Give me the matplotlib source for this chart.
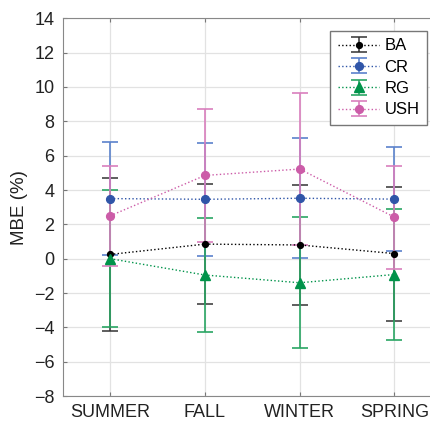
import matplotlib
matplotlib.use('Agg')
import matplotlib.pyplot as plt
from matplotlib.legend_handler import HandlerErrorbar
from matplotlib.container import ErrorbarContainer

plt.rcParams['font.family'] = ['Liberation Sans', 'DejaVu Sans']

seasons = ['SUMMER', 'FALL', 'WINTER', 'SPRING']
x = [1, 2, 3, 4]

ba = [0.25, 0.85, 0.8, 0.3]
ba_err = [4.45, 3.5, 3.5, 3.9]
cr = [3.5, 3.46, 3.52, 3.47]
cr_err = [3.3, 3.28, 3.5, 3.04]
rg = [0.0, -0.95, -1.4, -0.92]
rg_err = [4.0, 3.3, 3.8, 3.83]
ush = [2.5, 4.85, 5.22, 2.42]
ush_err = [2.9, 3.87, 4.4, 3.0]

fig = plt.figure(figsize=(4.31, 4.25), dpi=100)
ax = fig.add_axes([0.146, 0.068, 0.879, 0.889])

ax.errorbar(x, ba, yerr=ba_err, fmt='o', ls=':', color='black', ecolor='#333333',
            ms=4.2, lw=1.0, elinewidth=1.1, capsize=6, capthick=1.1, label='BA')
ax.errorbar(x, cr, yerr=cr_err, fmt='o', ls=':', color='#2f55a8', ecolor='#5b82cc',
            ms=5.6, lw=1.0, elinewidth=1.2, capsize=6, capthick=1.2, label='CR')
ax.errorbar(x, rg, yerr=rg_err, fmt='^', ls=':', color='#00934a', ecolor='#2aa563',
            ms=7, lw=1.0, elinewidth=1.2, capsize=6, capthick=1.2, label='RG')
ax.errorbar(x, ush, yerr=ush_err, fmt='o', ls=':', color='#cc5ca8', ecolor='#d97fbd',
            ms=5.6, lw=1.0, elinewidth=1.2, capsize=6, capthick=1.2, label='USH')

ax.set_xlim(0.5, 4.5)
ax.set_ylim(-8, 14)
ax.set_xticks(x)
ax.set_xticklabels(seasons)
ax.set_yticks(range(-8, 15, 2))
ax.tick_params(direction='in', length=3, color='#777777', labelsize=13, labelcolor='#222222',
               top=True, right=True, pad=6)
ax.grid(True, color='#e2e2e2', lw=0.9)
ax.set_axisbelow(True)
for s in ax.spines.values():
    s.set_color('#888888')
ax.set_ylabel('MBE (%)', fontsize=13.5, color='#222222')

ax.legend(loc='upper right', bbox_to_anchor=(427 / 431, 1 - 31 / 425),
          bbox_transform=fig.transFigure, fontsize=12, fancybox=False,
          edgecolor='#777777', framealpha=1, handlelength=2.5, borderaxespad=0,
          labelspacing=0.38, handletextpad=0.3, numpoints=1, borderpad=0.45,
          handler_map={ErrorbarContainer: HandlerErrorbar(xerr_size=0.45, yerr_size=0.45)})

fig.savefig('out.png', dpi=100)
